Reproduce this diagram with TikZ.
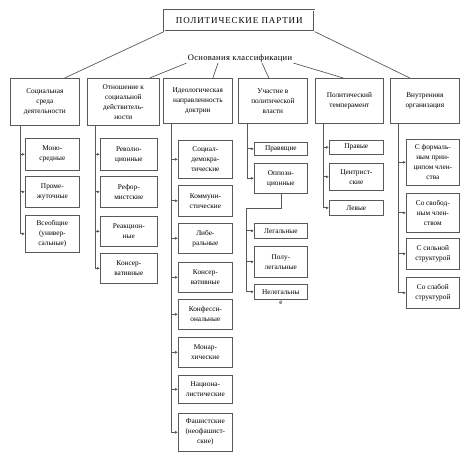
\documentclass[tikz,border=0pt]{standalone}
\usepackage{fontspec}
\setmainfont{Liberation Serif}
\usetikzlibrary{arrows.meta}
\tikzset{
  cbox/.style={draw=gray!70!black, line width=0.7pt, align=center, anchor=north west,
    font=\fontsize{7.3}{10}\selectfont, inner sep=1pt},
  conn/.style={draw=gray!70!black, line width=0.7pt},
  arr/.style={conn, -{Latex[length=3pt,width=3pt]}},
}
\newcommand{\bx}[6]{\node[cbox, minimum width=#4pt, minimum height=#5pt] (#1) at (#2,#3) {#6};}
\begin{document}
\begin{tikzpicture}[x=1pt,y=-1pt]
\useasboundingbox (0,0) rectangle (469,462);
% title
\node[draw=gray!70!black, double, double distance=0.8pt, line width=0.6pt, anchor=north west,
  minimum width=150pt, minimum height=21pt, font=\fontsize{9}{10}\selectfont\addfontfeatures{LetterSpace=10}] (t) at (164,10) {ПОЛИТИЧЕСКИЕ ПАРТИИ};
\node[font=\fontsize{8.5}{10}\selectfont\addfontfeatures{LetterSpace=4}, inner sep=1pt] (osn) at (240,58) {Основания классификации};
% headers
\bx{h1}{10}{78}{69}{47}{Социальная\\среда\\деятельности}
\bx{h2}{87}{78}{72}{47}{Отношение к\\социальной\\действитель-\\ности}
\bx{h3}{163}{78}{69}{45}{Идеологическая\\направленность\\доктрин}
\bx{h4}{238}{78}{69}{45}{Участие в\\политической\\власти}
\bx{h5}{315}{78}{68}{45}{Политический\\темперамент}
\bx{h6}{390}{78}{69}{45}{Внутренняя\\организация}
% top connectors
\draw[conn] (t.south west) -- ([xshift=-15pt]h1.north east);
\draw[conn] (t.south east) -- ([xshift=-15pt]h6.north);
\draw[conn] (osn.south west) -- ([xshift=-10pt]h2.north east);
\draw[conn] ([xshift=-22pt]osn.south) -- ([xshift=15pt]h3.north);
\draw[conn] ([xshift=22pt]osn.south) -- ([xshift=-4pt]h4.north);
\draw[conn] (osn.south east) -- ([xshift=-6pt]h5.north);
% column 1
\bx{a1}{25}{138}{54}{32}{Моно-\\средные}
\bx{a2}{25}{176}{54}{31}{Проме-\\жуточные}
\bx{a3}{25}{215}{54}{37}{Всеобщие\\(универ-\\сальные)}
\foreach \c in {a1,a2,a3} \draw[arr] ([xshift=10pt]h1.south west) |- (\c.west);
% column 2
\bx{b1}{100}{138}{57}{32}{Револю-\\ционные}
\bx{b2}{100}{176}{57}{31}{Рефор-\\мистские}
\bx{b3}{100}{216}{57}{30}{Реакцион-\\ные}
\bx{b4}{100}{253}{57}{30}{Консер-\\вативные}
\foreach \c in {b1,b2,b3,b4} \draw[arr] ([xshift=8pt]h2.south west) |- (\c.west);
% column 3
\bx{c1}{178}{140}{54}{38}{Социал-\\демокра-\\тические}
\bx{c2}{178}{185}{54}{31}{Коммуни-\\стические}
\bx{c3}{178}{223}{54}{30}{Либе-\\ральные}
\bx{c4}{178}{262}{54}{30}{Консер-\\вативные}
\bx{c5}{178}{299}{54}{30}{Конфесси-\\ональные}
\bx{c6}{178}{337}{54}{30}{Монар-\\хические}
\bx{c7}{178}{375}{54}{28}{Национа-\\листические}
\bx{c8}{178}{413}{54}{38}{Фашистские\\(неофашист-\\ские)}
\foreach \c in {c1,c2,c3,c4,c5,c6,c7,c8} \draw[arr] ([xshift=8pt]h3.south west) |- (\c.west);
% column 4
\bx{d1}{254}{142}{53}{13}{Правящие}
\bx{d2}{254}{163}{53}{30}{Оппози-\\ционные}
\foreach \c in {d1,d2} \draw[arr] ([xshift=9pt]h4.south west) |- (\c.west);
\coordinate (dj) at (246,208);
\bx{e1}{254}{223}{53}{15}{Легальные}
\bx{e2}{254}{246}{53}{31}{Полу-\\легальные}
\bx{e3}{254}{284}{53}{15}{Нелегальны}
\node[font=\fontsize{7}{8}\selectfont, inner sep=0pt, anchor=north] (e3x) at ([yshift=-1pt]e3.south) {е};
\foreach \c in {e1,e2,e3} \draw[arr] (d2.south) |- (dj) |- (\c.west);
% column 5
\bx{f1}{329}{140}{54}{14}{Правые}
\bx{f2}{329}{163}{54}{27}{Центрист-\\ские}
\bx{f3}{329}{200}{54}{15}{Левые}
\foreach \c in {f1,f2,f3} \draw[arr] ([xshift=8pt]h5.south west) |- (\c.west);
% column 6
\bx{g1}{406}{139}{53}{46}{С формаль-\\ным прин-\\ципом член-\\ства}
\bx{g2}{406}{193}{53}{39}{Со свобод-\\ным член-\\ством}
\bx{g3}{406}{238}{53}{31}{С сильной\\структурой}
\bx{g4}{406}{277}{53}{31}{Со слабой\\структурой}
\foreach \c in {g1,g2,g3,g4} \draw[arr] ([xshift=8pt]h6.south west) |- (\c.west);
\end{tikzpicture}
\end{document}
